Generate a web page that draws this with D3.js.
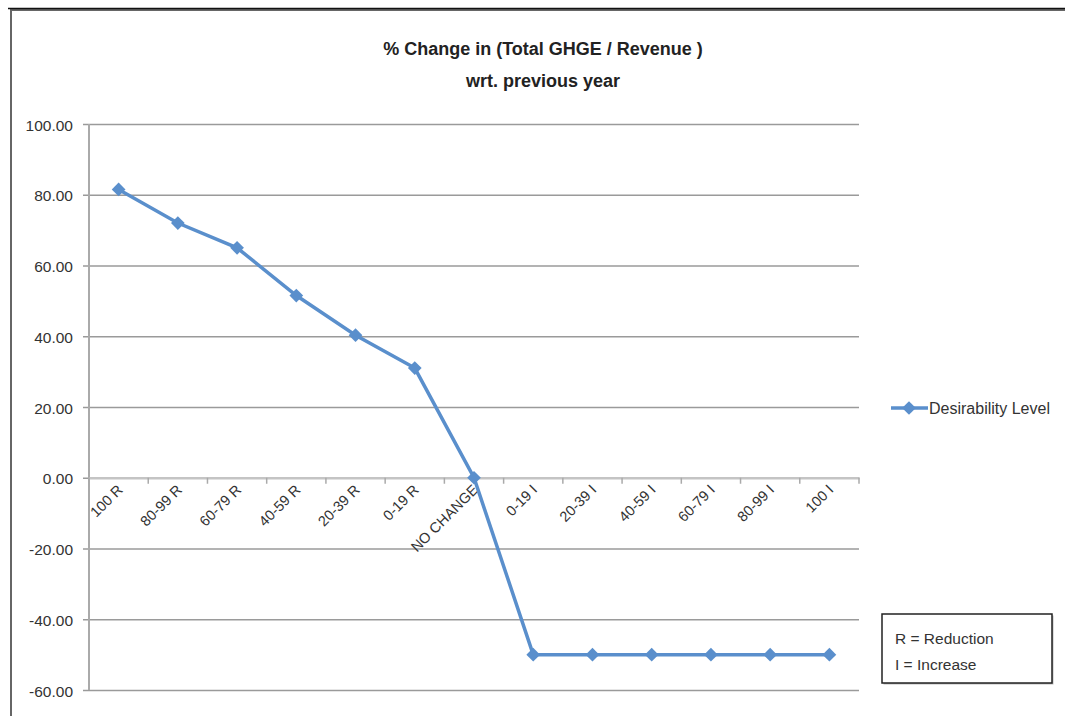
<!DOCTYPE html>
<html lang="en">
    <head>
        <meta http-equiv="Content-Type" content="text/html; charset=UTF-8" />
        <title>% Change in (Total GHGE / Revenue)</title>
        <script src="https://cdn.jsdelivr.net/npm/d3@7/dist/d3.min.js"></script>
        <style>
            body { margin: 0; background: #fff; }
            svg { display: block; }
            text { font-family: "Liberation Sans", Arial, sans-serif; fill: #333; }
        </style>

        <script>
            const categories = ['100 R', '80-99 R', '60-79 R', '40-59 R', '20-39 R', '0-19 R', 'NO CHANGE',
                '0-19 I', '20-39 I', '40-59 I', '60-79 I', '80-99 I', '100 I']
            const values = [81.5, 72, 65, 51.5, 40.3, 31, 0, -50, -50, -50, -50, -50, -50]
            const yTicks = [-60, -40, -20, 0, 20, 40, 60, 80, 100]
            const titleLines = ['% Change in (Total GHGE / Revenue )', 'wrt. previous year']
            const seriesName = 'Desirability Level'
            const noteLines = ['R = Reduction', 'I = Increase']

            const state = {
                dim: [1065, 716],
                plot: { left: 89, right: 859, top: 124, bottom: 690 },
                color: '#5a8fcc',
                scales: { x: null, y: null }
            }

            window.onload = () => {
                draw()
            }

            function draw() {
                const svg = d3.select('#chart')
                    .attr('width', state.dim[0])
                    .attr('height', state.dim[1])

                // outer frame (cut off right and bottom)
                svg.append('rect')
                    .attr('x', 11).attr('y', 10)
                    .attr('width', 1100).attr('height', 800)
                    .style('fill', 'none')
                    .style('stroke', '#666')
                    .style('stroke-width', 2)
                svg.append('line')
                    .attr('x1', 8).attr('x2', 1065)
                    .attr('y1', 8.5).attr('y2', 8.5)
                    .style('stroke', '#111')
                    .style('stroke-width', 1.5)

                const p = state.plot
                state.scales.x = d3.scaleBand()
                    .domain(categories)
                    .range([p.left, p.right])
                state.scales.y = d3.scaleLinear()
                    .domain([-60, 100])
                    .range([p.bottom, p.top])

                const x = state.scales.x
                const y = state.scales.y
                const cx = d => x(d) + x.bandwidth() / 2
                const fmt = d => d.toFixed(2)

                // gridlines + y axis
                const yAxis = svg.append('g')
                    .attr('transform', `translate(${p.left},0)`)
                    .call(d3.axisLeft(y)
                        .tickValues(yTicks)
                        .tickSize(-(p.right - p.left))
                        .tickPadding(16)
                        .tickFormat(fmt))
                yAxis.select('.domain').remove()
                yAxis.selectAll('.tick line')
                    .attr('x1', -6)
                    .style('stroke', '#9a9a9a')
                    .style('stroke-width', 1.5)
                yAxis.selectAll('.tick text')
                    .style('font-size', '15.5px')
                    .style('fill', '#333')
                    .attr('dy', '0.4em')

                svg.append('line')
                    .attr('x1', p.left).attr('x2', p.left)
                    .attr('y1', p.top).attr('y2', p.bottom)
                    .style('stroke', '#aaa')
                    .style('stroke-width', 2)

                // x axis at zero
                const xAxis = svg.append('g')
                    .attr('transform', `translate(0,${y(0)})`)
                    .call(d3.axisBottom(x).tickSize(0).tickFormat(''))
                xAxis.select('.domain')
                    .style('stroke', '#c4c4c4')
                    .style('stroke-width', 2.5)
                xAxis.selectAll('.boundary')
                    .data(d3.range(categories.length + 1))
                    .enter()
                        .append('line')
                        .attr('class', 'boundary')
                        .attr('x1', i => p.left + i * x.step())
                        .attr('x2', i => p.left + i * x.step())
                        .attr('y1', 0).attr('y2', 6)
                        .style('stroke', '#aaa')
                        .style('stroke-width', 1.5)

                svg.append('g')
                    .selectAll('text')
                    .data(categories)
                    .enter()
                        .append('text')
                        .attr('transform', d => `translate(${cx(d) + 5},${y(0) + 13}) rotate(-45)`)
                        .attr('text-anchor', 'end')
                        .style('font-size', '14.5px')
                        .text(d => d)

                // series
                const pts = categories.map((c, i) => ({ c: c, v: values[i] }))
                svg.append('path')
                    .datum(pts)
                    .attr('d', d3.line().x(d => cx(d.c)).y(d => y(d.v)))
                    .style('fill', 'none')
                    .style('stroke', state.color)
                    .style('stroke-width', 3.5)

                const diamond = d3.symbol().type(d3.symbolDiamond2).size(120)
                svg.append('g')
                    .selectAll('path')
                    .data(pts)
                    .enter()
                        .append('path')
                        .attr('d', diamond)
                        .attr('transform', d => `translate(${cx(d.c)},${y(d.v)})`)
                        .style('fill', state.color)

                // title
                svg.append('g')
                    .selectAll('text')
                    .data(titleLines)
                    .enter()
                        .append('text')
                        .attr('x', 543)
                        .attr('y', (d, i) => 55 + i * 32)
                        .attr('text-anchor', 'middle')
                        .style('font-size', '18px')
                        .style('font-weight', 'bold')
                        .style('fill', '#222')
                        .text(d => d)

                // legend
                const lg = svg.append('g').attr('transform', 'translate(891,408)')
                lg.append('line')
                    .attr('x1', 0).attr('x2', 37)
                    .style('stroke', state.color)
                    .style('stroke-width', 3.5)
                lg.append('path')
                    .attr('d', diamond)
                    .attr('transform', 'translate(18,0)')
                    .style('fill', state.color)
                lg.append('text')
                    .attr('x', 38).attr('y', 6)
                    .style('font-size', '16px')
                    .text(seriesName)

                // note box
                const nb = svg.append('g').attr('transform', 'translate(882,614)')
                nb.append('rect')
                    .attr('x', 1.5).attr('y', 1.5)
                    .attr('width', 170).attr('height', 69)
                    .style('fill', '#bbb')
                nb.append('rect')
                    .attr('width', 170).attr('height', 69)
                    .style('fill', '#fff')
                    .style('stroke', '#222')
                    .style('stroke-width', 1.5)
                nb.selectAll('.note')
                    .data(noteLines)
                    .enter()
                        .append('text')
                        .attr('class', 'note')
                        .attr('x', 13)
                        .attr('y', (d, i) => 30 + i * 26)
                        .style('font-size', '15.5px')
                        .text(d => d)
            }
        </script>
    </head>
    <body>
        <svg id="chart"></svg>
    </body>
</html>
